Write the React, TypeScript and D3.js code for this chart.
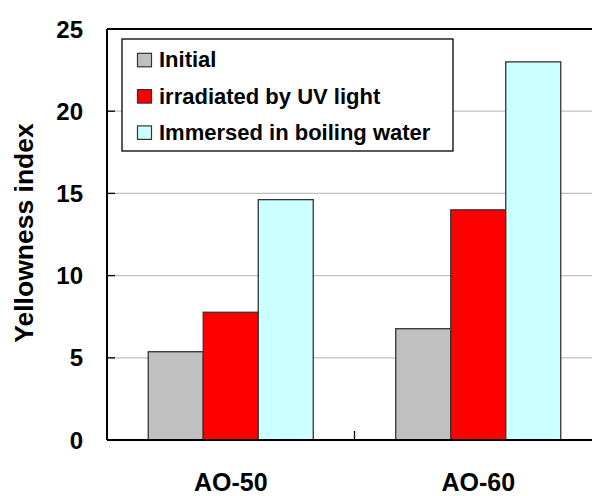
import React from "react";
import * as d3 from "d3";

const categories = ["AO-50", "AO-60"];
const seriesNames = ["Initial", "irradiated by UV light", "Immersed in boiling water"];
const initialValues = [5.37, 6.77];
const uvValues = [7.77, 14.0];
const boilingValues = [14.62, 23.0];
const seriesColors = ["#c0c0c0", "#ff0000", "#ccffff"];
const yTicks = [0, 5, 10, 15, 20, 25];

const W = 592;
const H = 496;
const left = 107;
const right = 602;
const top = 29;
const bottom = 440;
const font = "'Liberation Sans', Arial, Helvetica, sans-serif";

export default function App() {
  const values = [initialValues, uvValues, boilingValues];
  const y = d3.scaleLinear().domain([0, 25]).range([bottom, top]);
  const x0 = d3.scaleBand<string>().domain(categories).range([left, right]).paddingInner(0).paddingOuter(0);
  const x1 = d3
    .scaleBand<string>()
    .domain(seriesNames)
    .range([0, x0.bandwidth()])
    .paddingInner(0)
    .paddingOuter(0.75);

  return (
    <svg
      width={W}
      height={H}
      style={{ position: "absolute", left: 0, top: 0, background: "#fff" }}
      fontFamily={font}
      fontWeight="bold"
    >
      {/* gridlines */}
      {yTicks
        .filter((t) => t > 0 && t < 25)
        .map((t) => (
          <line key={"g" + t} x1={left} x2={right} y1={y(t)} y2={y(t)} stroke="#bfbfbf" strokeWidth={1.3} />
        ))}
      {/* left ticks inward */}
      {yTicks.map((t) => (
        <line key={"t" + t} x1={left} x2={left + 8} y1={y(t)} y2={y(t)} stroke="#000" strokeWidth={1.3} />
      ))}
      {/* bars */}
      {seriesNames.map((s, si) =>
        categories.map((c, ci) => (
          <rect
            key={s + c}
            x={(x0(c) as number) + (x1(s) as number)}
            y={y(values[si][ci])}
            width={x1.bandwidth()}
            height={bottom - y(values[si][ci])}
            fill={seriesColors[si]}
            stroke="#333"
            strokeWidth={1.3}
          />
        ))
      )}
      {/* category separator tick */}
      {categories.slice(1).map((c) => (
        <line key={"ct" + c} x1={x0(c) as number} x2={x0(c) as number} y1={bottom} y2={bottom - 9} stroke="#000" strokeWidth={1.3} />
      ))}
      {/* frame */}
      <line x1={left} x2={right} y1={top} y2={top} stroke="#000" strokeWidth={2} />
      <line x1={left} x2={right} y1={bottom} y2={bottom} stroke="#000" strokeWidth={2} />
      <line x1={left} x2={left} y1={top} y2={bottom} stroke="#000" strokeWidth={2} />
      <line x1={right} x2={right} y1={top} y2={bottom} stroke="#000" strokeWidth={2} />
      {/* y tick labels */}
      {yTicks.map((t) => (
        <text key={"l" + t} x={83} y={y(t)} dy="0.36em" textAnchor="end" fontSize={24}>
          {t}
        </text>
      ))}
      {/* x labels */}
      {categories.map((c) => (
        <text key={"xl" + c} x={(x0(c) as number) + x0.bandwidth() / 2} y={491} textAnchor="middle" fontSize={25}>
          {c}
        </text>
      ))}
      {/* y axis title */}
      <text transform={`translate(33,233) rotate(-90)`} textAnchor="middle" fontSize={26.5}>
        Yellowness index
      </text>
      {/* legend */}
      <rect x={122} y={39} width={331} height={112} fill="#fff" stroke="#000" strokeWidth={1.3} />
      {seriesNames.map((s, i) => (
        <g key={"lg" + s} transform={`translate(137.5, ${67.3 + i * 36.3})`}>
          <rect x={0} y={-14} width={14} height={13.5} fill={seriesColors[i]} stroke="#333" strokeWidth={1.2} />
          <text x={21.5} y={0} fontSize={22}>
            {s}
          </text>
        </g>
      ))}
    </svg>
  );
}
